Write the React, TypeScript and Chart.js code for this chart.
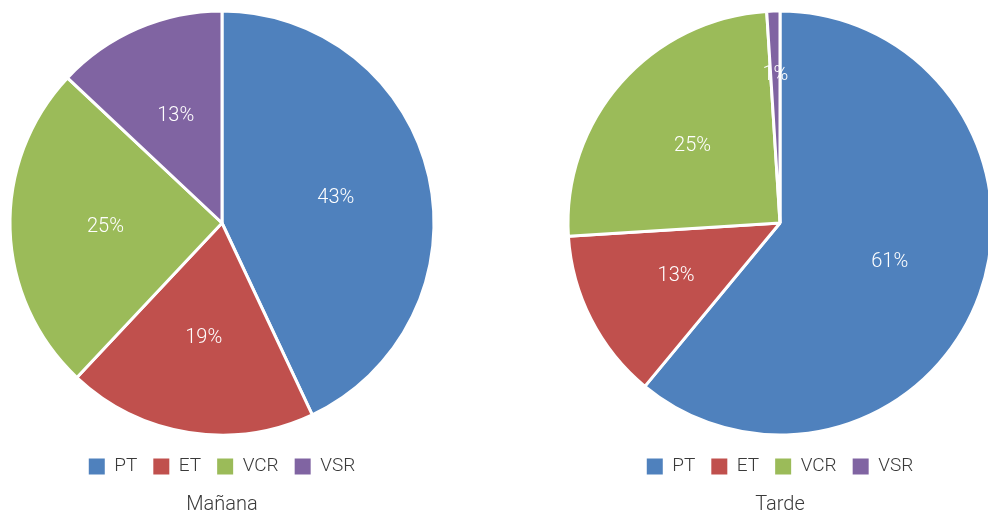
import React, { useEffect, useRef } from "react";
import { Chart, registerables } from "chart.js";

Chart.register(...registerables);

const categories = ["PT", "ET", "VCR", "VSR"];
const mananaValues = [43, 19, 25, 13];
const tardeValues = [61, 13, 25, 1];
const colors = ["#4F81BD", "#C0504D", "#9BBB59", "#8064A2"];
const FONT = "Roboto, 'Helvetica Neue', Arial, sans-serif";

const pctLabels = {
  id: "pctLabels",
  afterDatasetsDraw(chart: any) {
    const ctx = chart.ctx;
    const meta = chart.getDatasetMeta(0);
    const data = chart.data.datasets[0].data as number[];
    const total = data.reduce((a, b) => a + b, 0);
    ctx.save();
    ctx.fillStyle = "#ffffff";
    ctx.font = `300 20px ${FONT}`;
    ctx.textAlign = "center";
    ctx.textBaseline = "middle";
    meta.data.forEach((arc: any, i: number) => {
      const { x, y, startAngle, endAngle, outerRadius } = arc.getProps(
        ["x", "y", "startAngle", "endAngle", "outerRadius"],
        true
      );
      const mid = (startAngle + endAngle) / 2;
      const frac = data[i] / total < 0.05 ? 0.7 : 0.55;
      const r = outerRadius * frac;
      const pct = Math.round((data[i] / total) * 100);
      ctx.fillText(pct + "%", x + Math.cos(mid) * r, y + Math.sin(mid) * r);
    });
    ctx.restore();
  },
};

function PieChart({ values, title }: { values: number[]; title: string }) {
  const ref = useRef<HTMLCanvasElement | null>(null);
  useEffect(() => {
    if (!ref.current) return;
    const chart = new Chart(ref.current, {
      type: "pie",
      data: {
        labels: categories,
        datasets: [
          {
            data: values,
            backgroundColor: colors,
            borderColor: "#ffffff",
            borderWidth: 3,
          },
        ],
      },
      options: {
        animation: false,
        responsive: true,
        maintainAspectRatio: false,
        radius: 212,
        layout: { padding: { top: 5, bottom: 0, left: 0, right: 0 } },
        plugins: {
          tooltip: { enabled: false },
          legend: {
            display: true,
            position: "bottom",
            labels: {
              boxWidth: 16,
              boxHeight: 16,
              padding: 16,
              color: "#3a3a3a",
              font: { family: FONT, size: 19, weight: "300" as any },
              generateLabels(c: any) {
                const base = Chart.overrides.pie.plugins.legend.labels.generateLabels(c);
                return base.map((l: any) => ({ ...l, lineWidth: 0, strokeStyle: l.fillStyle }));
              },
            },
          },
          title: {
            display: true,
            position: "bottom",
            text: title,
            color: "#3a3a3a",
            font: { family: FONT, size: 20, weight: "300" as any },
            padding: { top: 7, bottom: 0 },
          },
        },
      } as any,
      plugins: [pctLabels],
    });
    return () => chart.destroy();
  }, [values, title]);
  return <canvas ref={ref} />;
}

export default function App() {
  return (
    <div
      style={{
        position: "absolute",
        left: 0,
        top: 0,
        width: 988,
        height: 517,
        overflow: "hidden",
        background: "#ffffff",
      }}
    >
      <div style={{ position: "absolute", left: 0, top: 0, width: 444, height: 517 }}>
        <PieChart values={mananaValues} title="Mañana" />
      </div>
      <div style={{ position: "absolute", left: 558, top: 0, width: 444, height: 517 }}>
        <PieChart values={tardeValues} title="Tarde" />
      </div>
    </div>
  );
}
